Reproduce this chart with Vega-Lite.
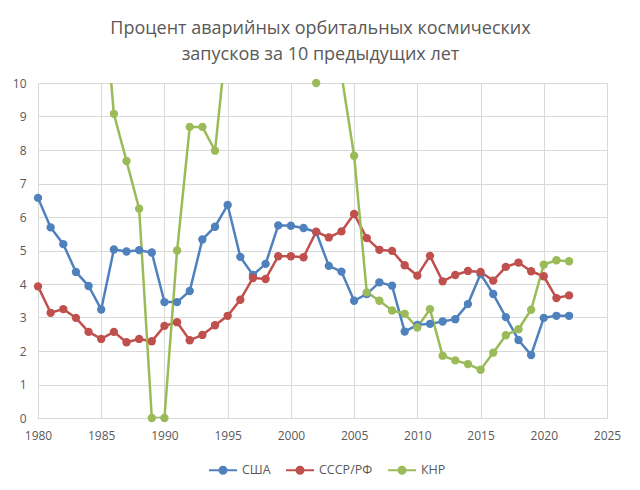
{
  "$schema": "https://vega.github.io/schema/vega-lite/v6.json",
  "width": 569,
  "height": 335,
  "autosize": "none",
  "padding": {"left": 38, "top": 83, "right": 33, "bottom": 72},
  "background": "white",
  "title": {
    "text": ["Процент аварийных орбитальных космических", "запусков за 10 предыдущих лет"],
    "font": "Open Sans",
    "fontSize": 18,
    "fontWeight": "normal",
    "color": "#595959",
    "lineHeight": 26,
    "anchor": "middle",
    "dx": -2,
    "offset": 13
  },
  "config": {
    "view": {"stroke": null},
    "font": "Open Sans",
    "axis": {
      "labelColor": "#595959",
      "labelFontSize": 12,
      "gridColor": "#D9D9D9",
      "gridWidth": 1,
      "ticks": false,
      "title": null
    },
    "legend": {
      "labelColor": "#595959",
      "labelFontSize": 12.5
    }
  },
  "data": {
    "values": [
      {"year": 1980, "country": "США", "value": 6.57},
      {"year": 1981, "country": "США", "value": 5.69},
      {"year": 1982, "country": "США", "value": 5.19},
      {"year": 1983, "country": "США", "value": 4.36},
      {"year": 1984, "country": "США", "value": 3.94},
      {"year": 1985, "country": "США", "value": 3.24},
      {"year": 1986, "country": "США", "value": 5.03},
      {"year": 1987, "country": "США", "value": 4.97},
      {"year": 1988, "country": "США", "value": 5.01},
      {"year": 1989, "country": "США", "value": 4.94},
      {"year": 1990, "country": "США", "value": 3.46},
      {"year": 1991, "country": "США", "value": 3.46},
      {"year": 1992, "country": "США", "value": 3.79},
      {"year": 1993, "country": "США", "value": 5.33},
      {"year": 1994, "country": "США", "value": 5.71},
      {"year": 1995, "country": "США", "value": 6.36},
      {"year": 1996, "country": "США", "value": 4.81},
      {"year": 1997, "country": "США", "value": 4.27},
      {"year": 1998, "country": "США", "value": 4.6},
      {"year": 1999, "country": "США", "value": 5.75},
      {"year": 2000, "country": "США", "value": 5.74},
      {"year": 2001, "country": "США", "value": 5.67},
      {"year": 2002, "country": "США", "value": 5.55},
      {"year": 2003, "country": "США", "value": 4.54},
      {"year": 2004, "country": "США", "value": 4.37},
      {"year": 2005, "country": "США", "value": 3.5},
      {"year": 2006, "country": "США", "value": 3.7},
      {"year": 2007, "country": "США", "value": 4.05},
      {"year": 2008, "country": "США", "value": 3.95},
      {"year": 2009, "country": "США", "value": 2.58},
      {"year": 2010, "country": "США", "value": 2.78},
      {"year": 2011, "country": "США", "value": 2.81},
      {"year": 2012, "country": "США", "value": 2.88},
      {"year": 2013, "country": "США", "value": 2.95},
      {"year": 2014, "country": "США", "value": 3.4},
      {"year": 2015, "country": "США", "value": 4.3},
      {"year": 2016, "country": "США", "value": 3.7},
      {"year": 2017, "country": "США", "value": 3.01},
      {"year": 2018, "country": "США", "value": 2.33},
      {"year": 2019, "country": "США", "value": 1.88},
      {"year": 2020, "country": "США", "value": 2.99},
      {"year": 2021, "country": "США", "value": 3.05},
      {"year": 2022, "country": "США", "value": 3.05},
      {"year": 1980, "country": "СССР/РФ", "value": 3.93},
      {"year": 1981, "country": "СССР/РФ", "value": 3.14},
      {"year": 1982, "country": "СССР/РФ", "value": 3.25},
      {"year": 1983, "country": "СССР/РФ", "value": 2.99},
      {"year": 1984, "country": "СССР/РФ", "value": 2.57},
      {"year": 1985, "country": "СССР/РФ", "value": 2.36},
      {"year": 1986, "country": "СССР/РФ", "value": 2.57},
      {"year": 1987, "country": "СССР/РФ", "value": 2.26},
      {"year": 1988, "country": "СССР/РФ", "value": 2.36},
      {"year": 1989, "country": "СССР/РФ", "value": 2.29},
      {"year": 1990, "country": "СССР/РФ", "value": 2.75},
      {"year": 1991, "country": "СССР/РФ", "value": 2.86},
      {"year": 1992, "country": "СССР/РФ", "value": 2.32},
      {"year": 1993, "country": "СССР/РФ", "value": 2.48},
      {"year": 1994, "country": "СССР/РФ", "value": 2.77},
      {"year": 1995, "country": "СССР/РФ", "value": 3.05},
      {"year": 1996, "country": "СССР/РФ", "value": 3.53},
      {"year": 1997, "country": "СССР/РФ", "value": 4.18},
      {"year": 1998, "country": "СССР/РФ", "value": 4.15},
      {"year": 1999, "country": "СССР/РФ", "value": 4.83},
      {"year": 2000, "country": "СССР/РФ", "value": 4.83},
      {"year": 2001, "country": "СССР/РФ", "value": 4.8},
      {"year": 2002, "country": "СССР/РФ", "value": 5.56},
      {"year": 2003, "country": "СССР/РФ", "value": 5.39},
      {"year": 2004, "country": "СССР/РФ", "value": 5.57},
      {"year": 2005, "country": "СССР/РФ", "value": 6.09},
      {"year": 2006, "country": "СССР/РФ", "value": 5.37},
      {"year": 2007, "country": "СССР/РФ", "value": 5.02},
      {"year": 2008, "country": "СССР/РФ", "value": 4.99},
      {"year": 2009, "country": "СССР/РФ", "value": 4.56},
      {"year": 2010, "country": "СССР/РФ", "value": 4.25},
      {"year": 2011, "country": "СССР/РФ", "value": 4.84},
      {"year": 2012, "country": "СССР/РФ", "value": 4.08},
      {"year": 2013, "country": "СССР/РФ", "value": 4.27},
      {"year": 2014, "country": "СССР/РФ", "value": 4.39},
      {"year": 2015, "country": "СССР/РФ", "value": 4.36},
      {"year": 2016, "country": "СССР/РФ", "value": 4.1},
      {"year": 2017, "country": "СССР/РФ", "value": 4.51},
      {"year": 2018, "country": "СССР/РФ", "value": 4.64},
      {"year": 2019, "country": "СССР/РФ", "value": 4.38},
      {"year": 2020, "country": "СССР/РФ", "value": 4.23},
      {"year": 2021, "country": "СССР/РФ", "value": 3.58},
      {"year": 2022, "country": "СССР/РФ", "value": 3.66},
      {"year": 1985, "country": "КНР", "value": 13.5},
      {"year": 1986, "country": "КНР", "value": 9.08},
      {"year": 1987, "country": "КНР", "value": 7.67},
      {"year": 1988, "country": "КНР", "value": 6.25},
      {"year": 1989, "country": "КНР", "value": 0},
      {"year": 1990, "country": "КНР", "value": 0},
      {"year": 1991, "country": "КНР", "value": 5.0},
      {"year": 1992, "country": "КНР", "value": 8.69},
      {"year": 1993, "country": "КНР", "value": 8.69},
      {"year": 1994, "country": "КНР", "value": 7.98},
      {"year": 1995, "country": "КНР", "value": 11.6},
      {"year": 1996, "country": "КНР", "value": 14.5},
      {"year": 1997, "country": "КНР", "value": 16.0},
      {"year": 1998, "country": "КНР", "value": 15.0},
      {"year": 1999, "country": "КНР", "value": 13.5},
      {"year": 2000, "country": "КНР", "value": 12.0},
      {"year": 2001, "country": "КНР", "value": 11.0},
      {"year": 2002, "country": "КНР", "value": 10.0},
      {"year": 2003, "country": "КНР", "value": 10.6},
      {"year": 2004, "country": "КНР", "value": 10.25},
      {"year": 2005, "country": "КНР", "value": 7.83},
      {"year": 2006, "country": "КНР", "value": 3.75},
      {"year": 2007, "country": "КНР", "value": 3.5},
      {"year": 2008, "country": "КНР", "value": 3.21},
      {"year": 2009, "country": "КНР", "value": 3.11},
      {"year": 2010, "country": "КНР", "value": 2.7},
      {"year": 2011, "country": "КНР", "value": 3.25},
      {"year": 2012, "country": "КНР", "value": 1.86},
      {"year": 2013, "country": "КНР", "value": 1.72},
      {"year": 2014, "country": "КНР", "value": 1.61},
      {"year": 2015, "country": "КНР", "value": 1.44},
      {"year": 2016, "country": "КНР", "value": 1.95},
      {"year": 2017, "country": "КНР", "value": 2.47},
      {"year": 2018, "country": "КНР", "value": 2.65},
      {"year": 2019, "country": "КНР", "value": 3.23},
      {"year": 2020, "country": "КНР", "value": 4.58},
      {"year": 2021, "country": "КНР", "value": 4.71},
      {"year": 2022, "country": "КНР", "value": 4.68}
    ]
  },
  "encoding": {
    "x": {
      "field": "year",
      "type": "quantitative",
      "scale": {"domain": [1980, 2025], "nice": false, "zero": false},
      "axis": {
        "values": [1980, 1985, 1990, 1995, 2000, 2005, 2010, 2015, 2020, 2025],
        "format": "d",
        "domainColor": "#D9D9D9",
        "labelPadding": 12,
        "labelFlush": false
      }
    },
    "y": {
      "field": "value",
      "type": "quantitative",
      "scale": {"domain": [0, 10], "nice": false},
      "axis": {
        "values": [0, 1, 2, 3, 4, 5, 6, 7, 8, 9, 10],
        "domain": false,
        "labelPadding": 12
      }
    },
    "color": {
      "field": "country",
      "type": "nominal",
      "sort": ["США", "СССР/РФ", "КНР"],
      "scale": {
        "domain": ["США", "СССР/РФ", "КНР"],
        "range": ["#4F81BD", "#C0504D", "#9BBB59"]
      },
      "legend": {
        "title": null,
        "orient": "none",
        "direction": "horizontal",
        "legendX": 170,
        "legendY": 372,
        "symbolType": "M-1,0L1,0M0.25,0A0.25,0.25 0 1,1 -0.25,0A0.25,0.25 0 1,1 0.25,0",
        "symbolSize": 784,
        "symbolStrokeWidth": 2,
        "labelOffset": 4,
        "columnPadding": 11,
        "encode": {
          "symbols": {
            "update": {
              "fill": {"scale": "color", "field": "value"},
              "stroke": {"scale": "color", "field": "value"},
              "fillOpacity": {"value": 1}
            }
          }
        }
      }
    }
  },
  "layer": [
    {
      "mark": {"type": "line", "strokeWidth": 2.5, "clip": true}
    },
    {
      "transform": [{"filter": "datum.value <= 10"}],
      "mark": {"type": "point", "filled": true, "size": 70, "opacity": 1}
    }
  ]
}
